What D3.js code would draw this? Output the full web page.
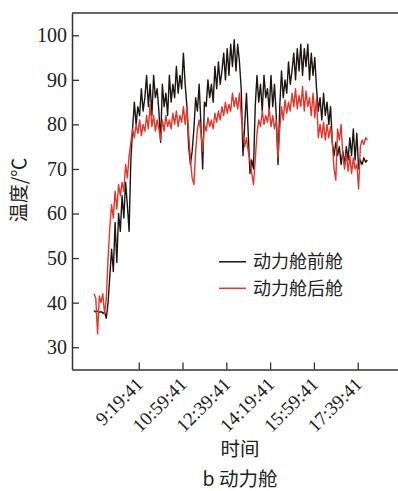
<!DOCTYPE html>
<html><head><meta charset="utf-8">
<script src="https://cdn.jsdelivr.net/npm/d3@7"></script>
<style>
html,body{margin:0;padding:0;background:#fff;}
svg{display:block;}
</style></head>
<body>
<svg id="chart" width="398" height="491"></svg>
<script>
// ---- data ----
const seriesNames = ["动力舱前舱", "动力舱后舱"];
const startTime = "07:37:41";
const stepMinutes = 4;
const frontCabin = [
38.2,37.9,38.1,37.8,38.0,37.6,37.9,36.5,40,46,
52,47,58,49,60,56,64,59,67,62,
56,72,79,85,80,84,82,88,83,86,
91,84,89,82,91,86,88,83,76,89,
84,87,82,91,85,89,86,93,87,91,
88,96,89,84,75,71,74,79,86,83,
89,80,70,85,84,90,86,89,85,93,
88,94,89,92,96,90,97,91,98,93,
99,92,98,94,88,73,80,87,78,69,
72,70,84,91,85,89,83,91,86,88,
83,91,84,89,82,71,84,92,86,90,
87,94,89,92,96,90,97,92,98,91,
97,93,98,90,96,91,95,88,83,86,
81,87,82,85,80,84,76,73,76,73,
75,71,74,71,75,72,77,73,79,72,
78,70,72,71,72.5,71.5,72];
const rearCabin = [
42,41,33,41.5,40,42,37.5,41,50,57,
62,59,65,61,66.5,64,67,65,71,68,
73,76,79,77,80,78,81,77.5,80,78.5,
82,79,84.5,79.5,82,78.5,81,79,76.5,81,
78.5,82,79.5,81,79,82.5,80,83,79.5,82,
80.5,84,80,84,78,72,68,66.5,74,79,
81,78,74,80,78.5,81.5,79.5,81,79,82.5,
80.5,83,81,84,82,85,82.5,84.5,83,87,
84,86,83.5,87,82,78,75,77,74,72,
69,66.5,72,78,81,79.5,83,80,82,80.5,
83.5,79.5,82,79,81,72.5,79,84,81,85.5,
82.5,85,83,87,84,88,83.5,86.5,84,88.5,
83,87.5,84,86,82,87,81.5,86,77,80,
77,80.5,76.5,80,77,79.5,76,70,67.5,79,
76.5,80,73,70,73.5,69.5,73,69,72.5,70,
71,65.5,75,76.5,75.5,77,76.5];
const xTickLabels = ["9:19:41","10:59:41","12:39:41","14:19:41","15:59:41","17:39:41"];
const yTicks = [30,40,50,60,70,80,90,100];
const xDomain = ["06:47:20","19:11:40"];
const yDomain = [25,105];
const colors = ["#1c1512","#e2372b"];

// ---- layout ----
const svg = d3.select("#chart");
const L = 72, R = 398, T = 13, B = 369.5;
const parse = d3.timeParse("%H:%M:%S");
const x = d3.scaleTime().domain(xDomain.map(parse)).range([L, R]);
const y = d3.scaleLinear().domain(yDomain).range([B, T]);
const t0 = parse(startTime);
const timeAt = i => d3.timeMinute.offset(t0, i*stepMinutes);

const serif = "'Liberation Serif','Times New Roman',serif";
const cjk = "'Noto Sans CJK SC','Noto Sans',sans-serif";

// data lines
const line = d3.line().x((d,i)=>x(timeAt(i))).y(d=>y(d));
[frontCabin, rearCabin].forEach((s,k)=>{
  svg.append("path").datum(s).attr("d", line)
    .attr("fill","none").attr("stroke",colors[k]).attr("stroke-width",1.4)
    .attr("stroke-linejoin","round");
});

// axes
const yAxis = d3.axisLeft(y).tickValues(yTicks).tickSizeInner(-7).tickSizeOuter(0).tickPadding(5);
const gy = svg.append("g").attr("transform",`translate(${L},0)`).call(yAxis);
gy.selectAll("text").attr("font-family",serif).attr("font-size",20).attr("fill","#222");

const xTicks = xTickLabels.map(parse);
const xAxis = d3.axisBottom(x).tickValues(xTicks).tickSizeInner(-7).tickSizeOuter(0)
  .tickFormat(d=>xTickLabels[xTicks.indexOf(d)]);
const gx = svg.append("g").attr("transform",`translate(0,${B})`).call(xAxis);
gx.selectAll("text").attr("font-family",serif).attr("font-size",19).attr("fill","#222")
  .attr("text-anchor","end").attr("dy",null).attr("y",null)
  .attr("transform","translate(5,16) rotate(-45)");
svg.selectAll(".domain").attr("stroke","#333").attr("stroke-width",1.5);
svg.selectAll(".tick line").attr("stroke","#333").attr("stroke-width",1.3);
// top frame line
svg.append("line").attr("x1",L).attr("x2",R).attr("y1",T).attr("y2",T)
  .attr("stroke","#333").attr("stroke-width",1.5);

// titles
svg.append("text").attr("transform","translate(26,190) rotate(-90)")
  .attr("text-anchor","middle").attr("font-family",cjk).attr("font-size",19).attr("fill","#222")
  .text("温度/℃");
svg.append("text").attr("x",240).attr("y",456).attr("text-anchor","middle")
  .attr("font-family",cjk).attr("font-size",19.5).attr("fill","#222").text("时间");
svg.append("text").attr("x",240).attr("y",486).attr("text-anchor","middle")
  .attr("font-family",cjk).attr("font-size",19.5).attr("fill","#222")
  .text("b 动力舱");

// legend
const lg = svg.append("g");
seriesNames.forEach((n,k)=>{
  const yy = 261.8 + k*26.5;
  lg.append("line").attr("x1",219).attr("x2",246).attr("y1",yy).attr("y2",yy)
    .attr("stroke",colors[k]).attr("stroke-width",1.5);
  lg.append("text").attr("x",253).attr("y",yy+6.5).attr("font-family",cjk)
    .attr("font-size",18).attr("fill","#222").text(n);
});
</script>
</body></html>
